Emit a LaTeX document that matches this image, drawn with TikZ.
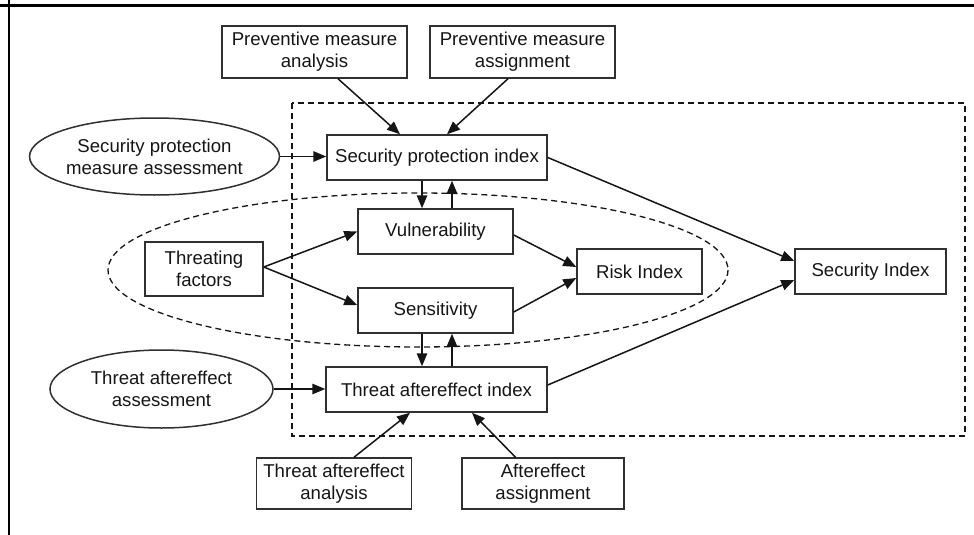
\documentclass[tikz,border=0pt]{standalone}
\usepackage{fontspec}
\setmainfont{Liberation Sans}
\usetikzlibrary{arrows.meta,shapes.geometric}
\definecolor{ink}{HTML}{151515}
\definecolor{edge}{HTML}{303030}
\begin{document}
\begin{tikzpicture}[x=1pt,y=-1pt,
  every node/.style={font=\fontsize{18.6}{22}\selectfont, text=ink},
  box/.style={draw=edge, line width=1.5pt, rectangle, inner sep=0pt, align=center},
  oval/.style={draw=edge, line width=1.5pt, ellipse, inner sep=0pt, align=center},
  arr/.style={draw=ink, line width=1.5pt, -{Triangle[length=13pt,width=10.5pt]}},
  group/.style={draw=ink, line width=1.3pt, dash pattern=on 6pt off 4pt}]
\useasboundingbox (0,0) rectangle (974,535);
% frame edges
\draw[line width=2.6pt, black] (0,5.3) -- (974,5.3);
\draw[line width=2.6pt, black] (8.8,0) -- (8.8,535);

% dashed groupings
\draw[group] (292,103) rectangle (965,436);
\draw[group] (418,270) ellipse [x radius=310, y radius=77];

% top inputs
\node[box, minimum width=185pt, minimum height=52pt] (pma) at (314.5,52) {Preventive measure\\analysis};
\node[box, minimum width=185pt, minimum height=52pt] (pmas) at (522.5,52) {Preventive measure\\assignment};

% left assessments
\node[oval, minimum width=245pt, minimum height=77pt] (spma) at (154.5,156.5) {Security protection\\measure assessment};
\node[oval, minimum width=223pt, minimum height=78pt] (taa) at (161.5,389) {Threat aftereffect\\assessment};

% indices
\node[box, minimum width=220pt, minimum height=45pt] (spi) at (437,157.5) {Security protection index};
\node[box, minimum width=155pt, minimum height=45pt] (vul) at (435.5,231.5) {Vulnerability};
\node[box, minimum width=155pt, minimum height=45pt] (sen) at (435.5,310.5) {Sensitivity};
\node[box, minimum width=118pt, minimum height=54pt] (tf) at (204,269) {Threating\\factors};
\node[box, minimum width=125pt, minimum height=45pt] (risk) at (639.5,271.5) {Risk Index};
\node[box, minimum width=151pt, minimum height=45pt] (si) at (870.5,271.5) {Security Index};
\node[box, minimum width=221pt, minimum height=45pt] (tai) at (436.5,389.5) {Threat aftereffect index};

% bottom inputs
\node[box, minimum width=155pt, minimum height=51pt] (taan) at (334,483.5) {Threat aftereffect\\analysis};
\node[box, minimum width=162pt, minimum height=51pt] (aa) at (543,483.5) {Aftereffect\\assignment};

% connectors
\draw[arr] ([xshift=23.5pt]pma.south) -- ([xshift=-37pt]spi.north);
\draw[arr] ([xshift=-14.5pt]pmas.south) -- ([xshift=10pt]spi.north);
\draw[arr] (spma.east) -- (spma.east -| spi.west);

\coordinate (d1) at ([xshift=-15pt]spi.south);
\coordinate (u1) at ([xshift=15pt]spi.south);
\draw[arr] (d1) -- (d1 |- vul.north);
\draw[arr] (u1 |- vul.north) -- (u1);

\draw[arr] ([yshift=2pt]tf.east) -- (vul.west);
\draw[arr] ([yshift=2pt]tf.east) -- ([yshift=5.5pt]sen.west);
\draw[arr] ([yshift=-3.5pt]vul.east) -- ([yshift=4.5pt]risk.west);
\draw[arr] ([yshift=-1.5pt]sen.east) -- ([yshift=-6.5pt]risk.west);
\draw[arr] (spi.east) -- ([yshift=10.5pt]si.west);
\draw[arr] ([yshift=4.5pt]tai.east) -- ([yshift=-8.5pt]si.west);

\coordinate (d2) at ([xshift=-14.5pt]tai.north);
\coordinate (u2) at ([xshift=15.5pt]tai.north);
\draw[arr] (d2 |- sen.south) -- (d2);
\draw[arr] (u2) -- (u2 |- sen.south);

\draw[arr] (taa.east) -- (taa.east -| tai.west);
\draw[arr] ([xshift=20pt]taan.north) -- ([xshift=-26.5pt]tai.south);
\draw[arr] ([xshift=-27.5pt]aa.north) -- ([xshift=35.5pt]tai.south);
\end{tikzpicture}
\end{document}
